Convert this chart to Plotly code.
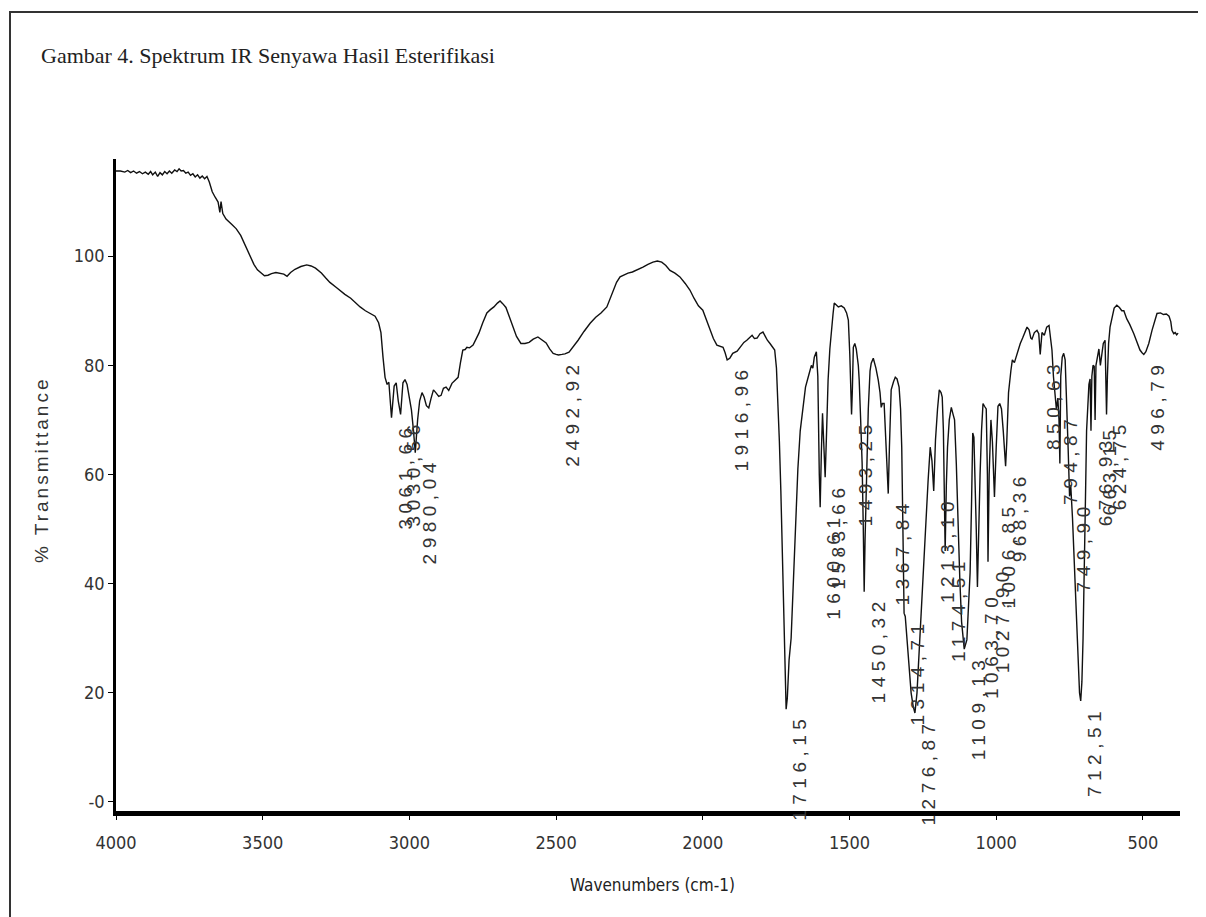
import plotly.graph_objects as go

# ---------------- data ----------------
wavenumber = [
    4000, 3985, 3970, 3960, 3950, 3940, 3930, 3920, 3910, 3900, 3890, 3882, 3875, 3866, 3858, 3850,
    3842, 3834, 3826, 3818, 3810, 3800, 3792, 3785, 3778, 3770, 3762, 3754, 3746, 3738, 3730, 3722,
    3714, 3706, 3698, 3690, 3682, 3672, 3662, 3652, 3646, 3642, 3636, 3625, 3605, 3590, 3575, 3560,
    3550, 3540, 3530, 3518, 3506, 3494, 3482, 3470, 3455, 3440, 3428, 3417, 3405, 3390, 3370, 3350,
    3335, 3320, 3300, 3285, 3271, 3250, 3235, 3220, 3200, 3185, 3168, 3150, 3135, 3117, 3105, 3097,
    3090, 3083, 3076, 3070, 3061, 3052, 3045, 3038, 3030, 3022, 3015, 3008, 3000, 2993, 2986, 2980,
    2972, 2965, 2957, 2950, 2942, 2934, 2926, 2918, 2910, 2900, 2892, 2884, 2875, 2866, 2855, 2845,
    2834, 2826, 2818, 2810, 2804, 2795, 2783, 2773, 2763, 2750, 2736, 2724, 2712, 2700, 2691, 2682,
    2671, 2660, 2647, 2635, 2620, 2606, 2592, 2578, 2562, 2548, 2534, 2522, 2510, 2500, 2492, 2480,
    2470, 2456, 2440, 2425, 2405, 2384, 2365, 2347, 2327, 2316, 2306, 2294, 2282, 2268, 2255, 2240,
    2228, 2215, 2204, 2187, 2170, 2155, 2140, 2126, 2112, 2095, 2078, 2060, 2044, 2030, 2015, 2000,
    1988, 1976, 1964, 1952, 1940, 1931, 1924, 1917, 1908, 1898, 1883, 1870, 1860, 1850, 1840, 1832,
    1824, 1815, 1805, 1795, 1788, 1780, 1771, 1762, 1755, 1749, 1744, 1739, 1734, 1729, 1724, 1720,
    1716, 1712, 1706, 1699, 1692, 1684, 1676, 1668, 1660, 1650, 1640, 1630, 1625, 1620, 1613, 1608,
    1603, 1600, 1596, 1592, 1588, 1583, 1578, 1573, 1567, 1562, 1556, 1552, 1545, 1538, 1528, 1518,
    1510, 1504, 1499, 1496, 1493, 1490, 1487, 1482, 1477, 1470, 1467, 1462, 1457, 1453, 1450, 1447,
    1442, 1436, 1430, 1426, 1419, 1410, 1402, 1396, 1392, 1388, 1382, 1375, 1371, 1368, 1364, 1358,
    1350, 1344, 1338, 1331, 1326, 1322, 1318, 1314, 1310, 1307, 1300, 1290, 1283, 1277, 1270, 1262,
    1255, 1248, 1240, 1232, 1225, 1219, 1213, 1207, 1200, 1194, 1188, 1184, 1180, 1177, 1174, 1170,
    1166, 1160, 1153, 1147, 1142, 1136, 1130, 1124, 1118, 1113, 1109, 1100, 1094, 1089, 1084, 1080,
    1076, 1072, 1068, 1064, 1060, 1055, 1050, 1045, 1040, 1034, 1030, 1028, 1024, 1018, 1013, 1006,
    1000, 994, 988, 982, 976, 972, 968, 964, 958, 950, 945, 938, 930, 918, 910, 903,
    895, 888, 882, 878, 870, 861, 855, 850, 844, 836, 828, 820, 815, 810, 805, 800,
    795, 790, 786, 783, 780, 775, 770, 765, 760, 755, 750, 746, 740, 735, 728, 722,
    716, 712, 708, 704, 700, 696, 692, 688, 684, 680, 677, 674, 670, 666, 663, 660,
    655, 650, 645, 640, 635, 629, 626, 624, 621, 617, 612, 605, 598, 589, 580, 572,
    565, 555, 545, 531, 520, 510, 503, 497, 490, 480, 469, 460, 452, 440, 430, 420,
    411, 405, 401, 395, 390, 385, 380,
]
transmittance = [
    115.6, 115.6, 115.4, 115.7, 115.3, 115.6, 115.2, 115.5, 115.1, 115.4, 115.0, 115.5, 114.9, 115.4, 114.6, 115.3,
    114.9, 115.5, 115.1, 115.6, 115.2, 115.8, 115.5, 116.0, 115.6, 115.7, 115.2, 115.4, 114.8, 115.1, 114.5, 114.9,
    114.3, 114.7, 114.2, 114.6, 113.6, 111.8, 110.8, 109.9, 108.0, 110.0, 107.8, 106.8, 105.8, 105.0, 103.8, 102.0,
    100.8, 99.5, 98.5, 97.5, 96.9, 96.4, 96.5, 96.8, 97.0, 96.8, 96.7, 96.3, 97.0, 97.6, 98.1, 98.4,
    98.2, 97.8, 96.9, 96.0, 95.2, 94.3, 93.6, 93.0, 92.3, 91.5, 90.7, 90.0, 89.6, 89.0, 87.8, 86.0,
    81.5, 77.8, 76.5, 76.9, 70.4, 76.2, 76.8, 73.5, 71.0, 76.8, 77.4, 76.5, 74.0, 71.8, 68.0, 64.0,
    70.0, 73.5, 75.0, 74.2, 72.6, 72.2, 74.0, 75.5, 75.0, 74.3, 74.5, 75.8, 76.0, 75.4, 76.7, 77.2,
    77.8, 80.5, 82.8, 82.9, 83.3, 83.2, 83.7, 84.8, 85.9, 87.8, 89.6, 90.2, 90.7, 91.4, 91.8, 91.3,
    90.6, 89.0, 87.0, 85.3, 84.0, 84.0, 84.2, 84.8, 85.2, 84.7, 84.1, 83.0, 82.2, 82.0, 81.9, 82.0,
    82.1, 82.4, 83.5, 84.6, 86.2, 87.7, 88.8, 89.6, 90.7, 92.3, 93.8, 95.2, 96.2, 96.6, 96.9, 97.1,
    97.4, 97.6, 98.0, 98.5, 98.9, 99.1, 98.9, 98.3, 97.4, 96.9, 96.2, 95.0, 93.8, 92.3, 90.9, 90.1,
    88.3, 86.4, 84.9, 83.7, 83.5, 83.3, 82.3, 81.0, 81.3, 82.2, 82.6, 83.4, 84.2, 84.6, 85.2, 85.5,
    84.9, 85.0, 85.8, 86.1, 85.4, 84.6, 84.0, 83.3, 82.8, 79.5, 74.0, 66.0, 57.0, 46.0, 35.0, 24.0,
    17.0, 19.0, 26.0, 30.0, 40.0, 50.0, 61.0, 68.0, 72.0, 76.0, 78.0, 80.0, 79.5, 81.5, 82.5, 78.0,
    60.0, 54.0, 64.0, 71.2, 66.0, 59.5, 68.0, 77.3, 83.0, 86.4, 89.5, 91.4, 91.0, 90.7, 90.9, 90.5,
    89.6, 88.3, 82.0, 76.0, 71.0, 76.0, 83.3, 84.0, 83.0, 80.0, 77.3, 70.0, 62.0, 50.0, 38.5, 48.0,
    59.0, 72.0, 79.0, 80.4, 81.3, 79.5, 77.3, 75.0, 72.3, 73.0, 73.0, 65.0, 60.0, 56.5, 65.0, 75.5,
    77.0, 77.8, 77.5, 76.0, 72.0, 65.0, 50.0, 34.6, 34.0, 32.0, 27.0, 20.0, 17.5, 16.3, 20.0, 28.4,
    36.0, 43.8, 52.0, 59.0, 65.0, 62.5, 57.0, 66.3, 72.0, 75.5, 75.0, 74.2, 68.0, 58.0, 46.0, 58.0,
    65.0, 70.0, 72.3, 71.0, 70.0, 62.0, 50.0, 40.7, 33.0, 29.7, 28.0, 29.7, 36.0, 42.0, 55.0, 67.6,
    66.8, 60.0, 50.0, 39.4, 50.0, 60.0, 68.1, 73.0, 72.5, 72.0, 60.0, 44.0, 60.0, 70.0, 66.0, 55.9,
    65.0, 72.5, 73.0, 72.0, 68.0, 64.0, 61.5, 66.0, 75.0, 79.0, 81.0, 80.5, 82.0, 84.0, 85.0, 86.0,
    87.0, 86.5, 85.0, 84.8, 86.0, 86.4, 85.8, 82.0, 86.0, 85.5, 87.0, 87.3, 85.0, 82.8, 78.0, 74.0,
    72.0, 74.0, 70.0, 62.0, 78.0, 81.5, 82.2, 81.0, 74.0, 65.0, 56.0, 58.0, 52.0, 45.0, 35.0, 25.0,
    20.0, 18.5, 22.0, 30.0, 40.0, 55.0, 68.0, 74.0, 76.5, 77.5, 68.0, 78.0, 80.0, 79.8, 70.0, 80.0,
    82.0, 83.0, 80.0, 82.0, 84.0, 84.6, 78.0, 71.0, 78.0, 84.0, 87.0, 89.0, 90.5, 91.0, 90.6, 90.0,
    90.0, 88.5, 87.5, 85.8, 84.0, 82.8, 82.3, 82.0, 82.5, 84.0, 86.4, 88.0, 89.5, 89.6, 89.3, 89.4,
    89.0, 88.0, 86.4, 85.8, 86.0, 85.6, 85.9,
]

peak_wavenumber = [3061.66, 3030.56, 2980.04, 2492.92, 1916.96, 1716.15, 1600.61, 1583.66,
                   1493.25, 1450.32, 1367.84, 1314.71, 1276.87, 1213.10, 1174.51, 1109.13,
                   1063.70, 1027.90, 1006.85, 968.36, 850.63, 794.87, 749.90, 712.51,
                   676.93, 663.15, 624.75, 496.79]
peak_transmittance = [70.4, 71.0, 64.0, 81.9, 81.0, 17.0, 54.0, 59.5,
                      71.0, 38.5, 56.5, 34.6, 16.3, 57.0, 46.0, 28.0,
                      39.4, 44.0, 55.9, 61.5, 82.0, 72.0, 56.0, 18.5,
                      68.0, 70.0, 71.0, 82.0]
peak_text = ["3061,66", "3030,56", "2980,04", "2492,92", "1916,96", "1716,15", "1600,61", "1583,66",
             "1493,25", "1450,32", "1367,84", "1314,71", "1276,87", "1213,10", "1174,51", "1109,13",
             "1063,70", "1027,90", "1006,85", "968,36", "850,63", "794,87", "749,90", "712,51",
             "676,93", "663,15", "624,75", "496,79"]

x_tick_values = [4000, 3500, 3000, 2500, 2000, 1500, 1000, 500]
x_tick_text = ["4000", "3500", "3000", "2500", "2000", "1500", "1000", "500"]
y_tick_values = [0, 20, 40, 60, 80, 100]
y_tick_text = ["-0", "20", "40", "60", "80", "100"]

title_text = "Gambar 4. Spektrum IR Senyawa Hasil Esterifikasi"
x_title = "Wavenumbers (cm-1)"
y_title = "% Transmittance"

# ---------------- figure ----------------
# The page body adds an 8 px offset, so the figure is 8 px smaller than the window.
OFF = 8
W, H = 1206 - OFF, 917 - OFF
# plot-area edges in window pixels
L, R, T, B = 116, 1180, 159, 811
COND = "DejaVu Sans Condensed, Liberation Sans Narrow, Arial Narrow, sans-serif"
SANS = "Liberation Sans, Arial, sans-serif"

fig = go.Figure()
fig.add_trace(go.Scatter(x=wavenumber, y=transmittance, mode="lines",
                         line=dict(color="#111111", width=1.4), hoverinfo="skip",
                         showlegend=False))

for w, t, s in zip(peak_wavenumber, peak_transmittance, peak_text):
    fig.add_annotation(x=w, y=t, xref="x", yref="y",
                       text='<span style="letter-spacing:5.5px">' + s + '</span>',
                       textangle=-90, showarrow=False, xanchor="center", yanchor="top",
                       xshift=14, yshift=-3,
                       font=dict(family=SANS, size=19, color="#333333"))

def px_to_paper_x(p):
    return (p - L) / (R - L)

def px_to_paper_y(p):
    return (B - p) / (B - T)

# axis titles
fig.add_annotation(x=px_to_paper_x(41), y=px_to_paper_y(470), xref="paper", yref="paper",
                   text='<span style="letter-spacing:3px">' + y_title + '</span>',
                   textangle=-90, showarrow=False, xanchor="center", yanchor="middle",
                   font=dict(family=SANS, size=19, color="#333333"))
fig.add_annotation(x=px_to_paper_x(652), y=px_to_paper_y(885), xref="paper", yref="paper",
                   text=x_title, showarrow=False, xanchor="center", yanchor="middle",
                   font=dict(family=COND, size=17, color="#222222"))
# figure caption
fig.add_annotation(x=px_to_paper_x(39), y=px_to_paper_y(55), xref="paper", yref="paper",
                   text=title_text, showarrow=False, xanchor="left", yanchor="middle",
                   font=dict(family="Liberation Serif, Times New Roman, serif", size=22,
                             color="#222222"))

# outer frame
fig.add_shape(type="rect", xref="paper", yref="paper",
              x0=px_to_paper_x(10), x1=px_to_paper_x(1204),
              y0=px_to_paper_y(930), y1=px_to_paper_y(12),
              line=dict(color="#333333", width=2), fillcolor="rgba(0,0,0,0)", layer="below")

fig.update_layout(
    width=W, height=H,
    margin=dict(l=L - OFF, r=W - (R - OFF), t=T - OFF, b=H - (B - OFF), pad=0),
    paper_bgcolor="white", plot_bgcolor="white",
    showlegend=False,
    xaxis=dict(range=[4000, 373.6], tickvals=x_tick_values, ticktext=x_tick_text,
               showgrid=False, zeroline=False, showline=True, linecolor="black", linewidth=5,
               ticks="outside", ticklen=4, tickwidth=1, tickcolor="black",
               tickfont=dict(family=COND, size=18, color="#333333"),
               ticklabelstandoff=7),
    yaxis=dict(range=[-1.65, 117.8], tickvals=y_tick_values, ticktext=y_tick_text,
               showgrid=False, zeroline=False, showline=True, linecolor="black", linewidth=2.5,
               ticks="outside", ticklen=5, tickwidth=1, tickcolor="black",
               tickfont=dict(family=COND, size=18, color="#333333")),
)

fig.write_html("out.html")
